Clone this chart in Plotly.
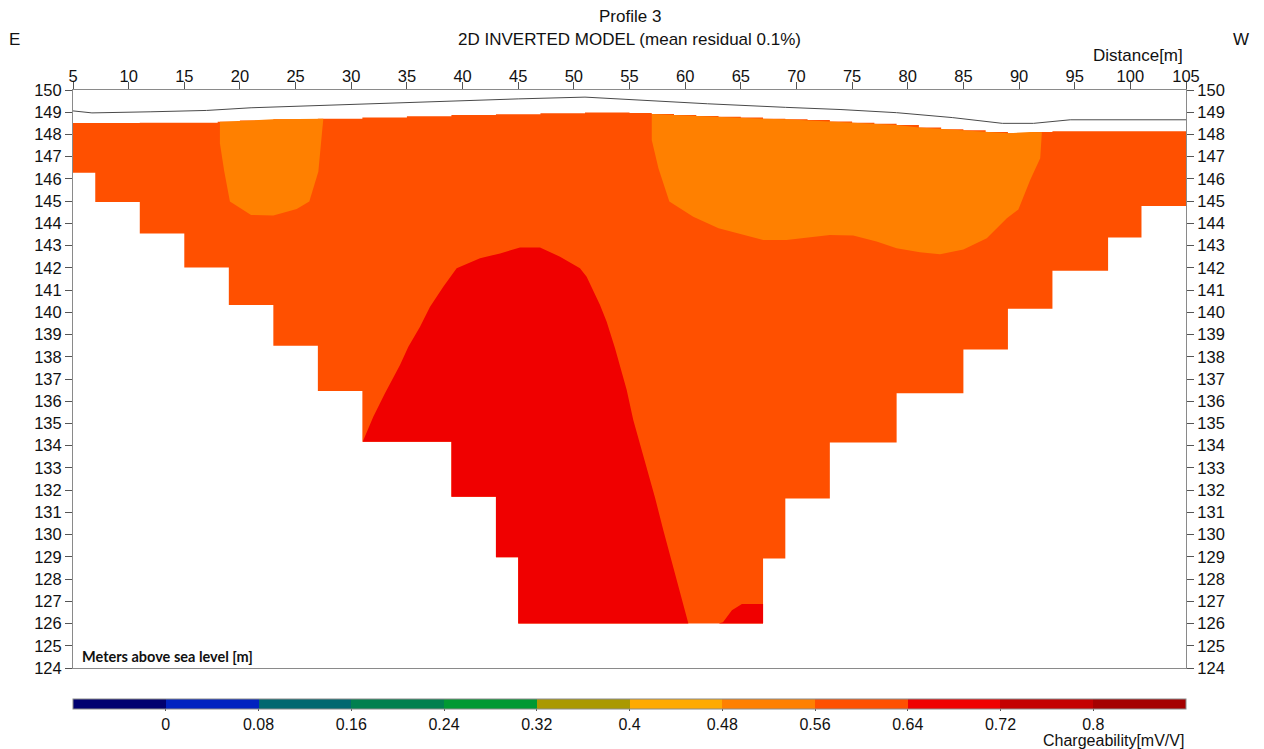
import plotly.graph_objects as go

# ---------------- colour scale (chargeability bins, mV/V) ----------------
bin_edges = [-0.08, 0.0, 0.08, 0.16, 0.24, 0.32, 0.40, 0.48, 0.56, 0.64, 0.72, 0.80, 0.88]
bin_colors = ["#000070", "#0022C0", "#006870", "#00804F", "#009933", "#AA9900",
              "#FFAA00", "#FF8000", "#FF5000", "#F00000", "#C40000", "#A50000"]
tick_vals = [0, 0.08, 0.16, 0.24, 0.32, 0.40, 0.48, 0.56, 0.64, 0.72, 0.80]
tick_text = ["0", "0.08", "0.16", "0.24", "0.32", "0.4", "0.48", "0.56", "0.64", "0.72", "0.8"]

# ---------------- topography (distance m, elevation m) ----------------
topo_x = [5, 6.7, 12, 17, 21, 30, 36, 45, 51, 54, 57, 62, 69, 74, 79, 84, 88.5, 91.3, 94.6, 105]
topo_z = [149.06, 148.97, 149.02, 149.08, 149.2, 149.35, 149.47, 149.6, 149.68, 149.6, 149.5,
          149.38, 149.22, 149.12, 148.98, 148.76, 148.5, 148.5, 148.66, 148.66]

# ---------------- model extent (stepped section) ----------------
top_x = [5, 11, 18, 20, 23, 27, 31, 35, 39, 43, 47, 51, 55, 57, 59, 61, 63, 65, 67, 69, 71,
         73, 75, 77, 79, 81, 83, 85, 87, 89, 91, 93, 105]
top_z = [148.52, 148.53, 148.57, 148.63, 148.68, 148.71, 148.76, 148.82, 148.87, 148.91,
         148.95, 148.99, 148.97, 148.92, 148.88, 148.83, 148.80, 148.76, 148.71, 148.68,
         148.65, 148.58, 148.53, 148.48, 148.43, 148.31, 148.23, 148.19, 148.11, 148.05,
         148.11, 148.15, 148.15]
right_x = [105, 105, 101, 98, 93, 89, 85, 79, 73, 69, 67]
right_z = [148.15, 144.78, 143.37, 141.87, 140.16, 138.33, 136.36, 134.14, 131.63, 128.93, 126.0]
bottom_x = [45]
bottom_z = [126.0]
left_x = [45, 43, 39, 31, 27, 23, 19, 15, 11, 7, 5]
left_z = [128.98, 131.7, 134.18, 136.46, 138.5, 140.33, 142.01, 143.55, 144.96, 146.28, 148.52]
section_value = 0.60

# ---------------- anomaly zones ----------------
zone_a_x = [18.2, 18.2, 18.57, 19.1, 21.0, 23.0, 25.1, 26.23, 27.04, 27.49, 23.0, 20.0, 18.2]
zone_a_z = [148.57, 147.6, 146.4, 144.98, 144.38, 144.35, 144.65, 144.98, 146.32, 148.71,
            148.68, 148.63, 148.57]
zone_a_value = 0.52

zone_b_x = [57.0, 57.0, 57.6, 58.58, 60.73, 63.0, 67.02, 69.1, 73.0, 75.1, 77.2, 79.0, 81.1,
            82.9, 85.0, 87.1, 88.9, 89.94, 91.0, 91.9, 92.05, 91.0, 89.0, 87.0, 85.0, 83.0,
            81.0, 79.0, 77.0, 75.0, 73.0, 71.0, 69.0, 67.0, 65.0, 63.0, 61.0, 59.0, 57.0]
zone_b_z = [148.92, 147.75, 146.48, 144.98, 144.3, 143.78, 143.25, 143.25, 143.48, 143.45,
            143.18, 142.88, 142.7, 142.61, 142.83, 143.33, 144.23, 144.63, 145.95, 146.93,
            148.1, 148.11, 148.05, 148.11, 148.19, 148.23, 148.31, 148.43, 148.48, 148.53,
            148.58, 148.65, 148.68, 148.71, 148.76, 148.80, 148.83, 148.88, 148.92]
zone_b_value = 0.52

zone_c_x = [31.03, 31.98, 33.03, 34.38, 35.13, 36.18, 37.08, 38.27, 39.47, 41.57, 43.37,
            45.16, 46.96, 48.76, 50.55, 51.15, 52.35, 52.95, 53.7, 54.75, 55.34, 55.94,
            57.29, 58.04, 58.94, 60.29, 45.0, 45.0, 43.0, 43.0, 39.0, 39.0, 31.03]
zone_c_z = [134.18, 135.3, 136.36, 137.63, 138.45, 139.35, 140.25, 141.15, 141.98, 142.43,
            142.65, 142.92, 142.92, 142.5, 141.98, 141.6, 140.33, 139.58, 138.38, 136.5,
            135.16, 134.1, 131.67, 130.2, 128.56, 126.0, 126.0, 128.98, 128.98, 131.7,
            131.7, 134.18, 134.18]
zone_c_value = 0.68

zone_d_x = [63.0, 63.4, 64.2, 65.1, 67.0, 67.0, 63.0]
zone_d_z = [126.0, 126.06, 126.6, 126.88, 126.88, 126.0, 126.0]
zone_d_value = 0.68


def color_for(v):
    for i in range(len(bin_colors)):
        if bin_edges[i] <= v < bin_edges[i + 1]:
            return bin_colors[i]
    return bin_colors[-1]


FONT = "Liberation Sans, Arial, sans-serif"
fig = go.Figure()

# whole section
sec_x = top_x + right_x + bottom_x + left_x
sec_z = top_z + right_z + bottom_z + left_z
fig.add_trace(go.Scatter(x=sec_x, y=sec_z, mode="lines", fill="toself",
                         fillcolor=color_for(section_value),
                         line=dict(width=0, shape="hv", color=color_for(section_value)),
                         hoverinfo="skip", showlegend=False))

for zx, zz, zv in [(zone_a_x, zone_a_z, zone_a_value), (zone_b_x, zone_b_z, zone_b_value),
                   (zone_c_x, zone_c_z, zone_c_value), (zone_d_x, zone_d_z, zone_d_value)]:
    fig.add_trace(go.Scatter(x=zx, y=zz, mode="lines", fill="toself",
                             fillcolor=color_for(zv),
                             line=dict(width=0, color=color_for(zv)),
                             hoverinfo="skip", showlegend=False))

# topography line
fig.add_trace(go.Scatter(x=topo_x, y=topo_z, mode="lines",
                         line=dict(color="#4a4a4a", width=1),
                         hoverinfo="skip", showlegend=False))

# colour bar carrier
cscale = []
n = len(bin_colors)
for i, c in enumerate(bin_colors):
    cscale.append([i / n, c])
    cscale.append([(i + 1) / n, c])
fig.add_trace(go.Scatter(
    x=[None], y=[None], mode="markers", showlegend=False, hoverinfo="skip",
    marker=dict(color=[section_value], colorscale=cscale, cmin=bin_edges[0], cmax=bin_edges[-1],
                showscale=True, opacity=0,
                colorbar=dict(orientation="h", x=0.5, xanchor="center",
                              y=(668 - 699) / 578, yanchor="top",
                              lenmode="pixels", len=1113, thickness=10,
                              xpad=0, ypad=0,
                              outlinecolor="#8a8a8a", outlinewidth=1,
                              tickvals=tick_vals, ticktext=tick_text,
                              ticks="outside", ticklen=2, tickcolor="#555555",
                              tickfont=dict(family=FONT, size=16, color="#111111")))))

# right axis carrier
fig.add_trace(go.Scatter(x=[None], y=[None], yaxis="y2", showlegend=False, hoverinfo="skip"))

axis_common = dict(showgrid=False, zeroline=False, showline=True, linecolor="#8a8a8a",
                   linewidth=1, ticks="outside", ticklen=7, tickcolor="#555555",
                   tickfont=dict(family=FONT, size=16.5, color="#111111"))

fig.update_layout(
    width=1264, height=749,
    margin=dict(l=73, r=78, t=90, b=81, pad=0),
    paper_bgcolor="white", plot_bgcolor="white",
    font=dict(family=FONT, size=16, color="#111111"),
    xaxis=dict(range=[5, 105], side="top", tick0=5, dtick=5, mirror=True,
               ticklabelstandoff=-7, **axis_common),
    yaxis=dict(range=[124, 150], tick0=124, dtick=1, side="left", **axis_common),
    yaxis2=dict(range=[124, 150], tick0=124, dtick=1, side="right", overlaying="y",
                **axis_common),
    annotations=[
        dict(text="Profile 3", xref="paper", yref="paper", x=0.5, y=(668 - 17) / 578,
             xanchor="center", yanchor="middle", showarrow=False,
             font=dict(family=FONT, size=17)),
        dict(text="2D INVERTED MODEL (mean residual 0.1%)", xref="paper", yref="paper",
             x=0.5, y=(668 - 39) / 578, xanchor="center", yanchor="middle", showarrow=False,
             font=dict(family=FONT, size=17)),
        dict(text="E", xref="paper", yref="paper", x=(14 - 73) / 1113, y=(668 - 39) / 578,
             xanchor="center", yanchor="middle", showarrow=False, font=dict(family=FONT, size=17)),
        dict(text="W", xref="paper", yref="paper", x=(1241 - 73) / 1113, y=(668 - 39) / 578,
             xanchor="center", yanchor="middle", showarrow=False, font=dict(family=FONT, size=17)),
        dict(text="Distance[m]", xref="paper", yref="paper", x=(1185 - 73) / 1113,
             y=(668 - 56) / 578, xanchor="right", yanchor="middle", showarrow=False,
             font=dict(family=FONT, size=17)),
        dict(text="<b>Meters above sea level [m]</b>", xref="paper", yref="paper",
             x=(80 - 73) / 1113, y=(668 - 656.5) / 578, xanchor="left", yanchor="middle",
             showarrow=False, font=dict(family="Lato, Noto Sans, sans-serif", size=14.5)),
        dict(text="Chargeability[mV/V]", xref="paper", yref="paper", x=(1186 - 73) / 1113,
             y=(668 - 740) / 578, xanchor="right", yanchor="middle", showarrow=False,
             font=dict(family=FONT, size=16)),
    ],
)

fig.write_html("out.html", config={"displayModeBar": False},
               post_script="document.body.style.margin='0';document.body.style.overflow='hidden';")
